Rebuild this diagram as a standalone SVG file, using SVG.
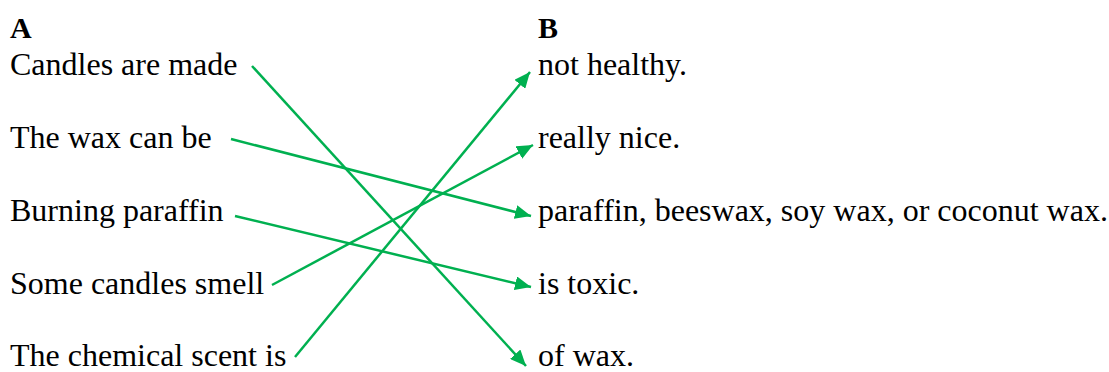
<svg xmlns="http://www.w3.org/2000/svg" width="1109" height="372" viewBox="0 0 1109 372">
<style>
text{font-family:"Liberation Serif","Times New Roman",serif;font-size:32px;fill:#000}
.h{font-weight:bold;font-size:30px}
.c line{stroke:#00B050;stroke-width:2.5;marker-end:url(#ah)}
</style>
<defs>
<marker id="ah" markerUnits="userSpaceOnUse" markerWidth="18" markerHeight="14" refX="16" refY="7" orient="auto" viewBox="0 0 18 14">
<path d="M0,0 L16,7 L0,14 z" fill="#00B050"/>
</marker>
</defs>
<rect width="1109" height="372" fill="#fff"/>
<g id="headA"><text class="h" x="10" y="38">A</text></g>
<g id="headB"><text class="h" x="538" y="38">B</text></g>
<g id="a1"><text x="10" y="75">Candles are made</text></g>
<g id="a2"><text x="10" y="148">The wax can be</text></g>
<g id="a3"><text x="10" y="221">Burning paraffin</text></g>
<g id="a4"><text x="10" y="294">Some candles smell</text></g>
<g id="a5"><text x="10" y="366">The chemical scent is</text></g>
<g id="b1"><text x="538" y="75">not healthy.</text></g>
<g id="b2"><text x="538" y="148">really nice.</text></g>
<g id="b3"><text x="538" y="221">paraffin, beeswax, soy wax, or coconut wax.</text></g>
<g id="b4"><text x="538" y="294">is toxic.</text></g>
<g id="b5"><text x="538" y="366">of wax.</text></g>
<g class="c" id="connectors">
<line x1="252" y1="66" x2="526" y2="366"/>
<line x1="231" y1="139" x2="531" y2="216"/>
<line x1="235" y1="216" x2="531" y2="287"/>
<line x1="272" y1="285" x2="533" y2="145"/>
<line x1="295" y1="357" x2="530" y2="72"/>
</g>
</svg>
